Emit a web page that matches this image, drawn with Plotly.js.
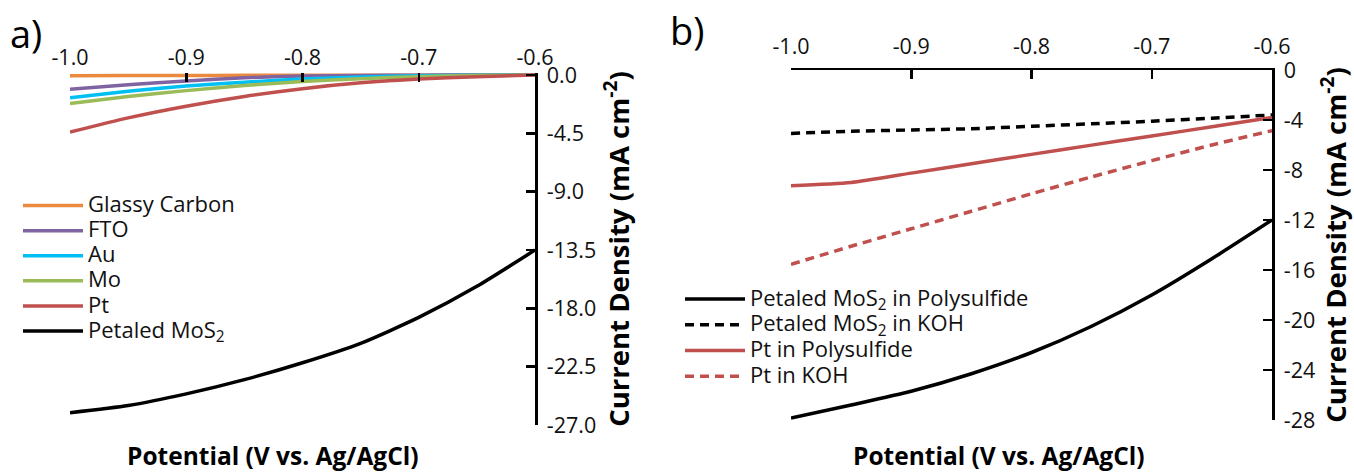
<!DOCTYPE html>
<html>
<head>
<meta charset="utf-8">
<script src="https://cdn.plot.ly/plotly-3.0.1.min.js"></script>
<style>html,body{margin:0;padding:0;background:#fff;}#chart{width:1354px;height:474px;}</style>
</head>
<body>
<div id="chart"></div>
<script>
// ---- Data ----
const potential = [-1.0, -0.95, -0.9, -0.85, -0.8, -0.75, -0.7, -0.65, -0.6];

// Panel a: current density (mA cm^-2)
const glassyCarbon = [-0.05, -0.04, -0.03, -0.02, -0.02, -0.01, -0.01, 0, 0];
const fto          = [-1.1, -0.75, -0.45, -0.2, -0.08, -0.03, -0.01, 0, 0];
const au           = [-1.75, -1.25, -0.85, -0.55, -0.3, -0.15, -0.05, -0.02, 0];
const mo           = [-2.2, -1.65, -1.2, -0.8, -0.5, -0.28, -0.12, -0.04, 0];
const pt           = [-4.4, -3.3, -2.4, -1.65, -1.05, -0.6, -0.3, -0.12, 0];
const petaledMoS2  = [-26.05, -25.5, -24.6, -23.5, -22.2, -20.7, -18.7, -16.3, -13.5];

// Panel b
const mos2Polysulfide = [-27.85, -26.8, -25.7, -24.3, -22.6, -20.5, -18.0, -15.1, -12.0];
const mos2KOH         = [-5.07, -4.9, -4.8, -4.7, -4.5, -4.3, -4.1, -3.85, -3.6];
const ptPolysulfide   = [-9.25, -9.0, -8.25, -7.5, -6.75, -6.01, -5.28, -4.54, -3.8];
const ptKOH           = [-15.55, -14.1, -12.7, -11.3, -9.9, -8.55, -7.25, -6.0, -4.85];

// Names and tick labels
const namesA = ["Glassy Carbon", "FTO", "Au", "Mo", "Pt", "Petaled MoS<sub>2</sub>"];
const namesB = ["Petaled MoS<sub>2</sub> in Polysulfide", "Petaled MoS<sub>2</sub> in KOH", "Pt in Polysulfide", "Pt in KOH"];
const xTickVals = [-1.0, -0.9, -0.8, -0.7, -0.6];
const xTickText = ["-1.0", "-0.9", "-0.8", "-0.7", "-0.6"];
const yTickValsA = [0, -4.5, -9, -13.5, -18, -22.5, -27];
const yTickTextA = ["0.0", "-4.5", "-9.0", "-13.5", "-18.0", "-22.5", "-27.0"];
const yTickValsB = [0, -4, -8, -12, -16, -20, -24, -28];
const yTickTextB = ["0", "-4", "-8", "-12", "-16", "-20", "-24", "-28"];
const xTitle = "Potential (V vs. Ag/AgCl)";
const yTitle = "Current Density (mA cm<sup>-2</sup>)";

// ---- Styling ----
const FONT = "Open Sans, Noto Sans, sans-serif";
const LEG_SIZE = 22;
const big = t => '<span style="font-size:' + LEG_SIZE + 'px">' + t + '</span>';
const colorsA = ["#EB8A3E", "#8064A2", "#00BFF3", "#9BBB59", "#C0504D", "#000000"];
const seriesA = [glassyCarbon, fto, au, mo, pt, petaledMoS2];
const seriesB = [mos2Polysulfide, mos2KOH, ptPolysulfide, ptKOH];
const colorsB = ["#000000", "#000000", "#C0504D", "#C0504D"];
const dashesB = ["solid", "9px,6px", "solid", "9px,6px"];

const traces = [];
seriesA.forEach((s, i) => {
  traces.push({
    x: potential, y: s, type: "scatter", mode: "lines", name: big(namesA[i]),
    xaxis: "x", yaxis: "y", legend: "legend",
    line: {color: colorsA[i], width: 3.5, shape: "spline", smoothing: 0.6}
  });
});
seriesB.forEach((s, i) => {
  traces.push({
    x: potential, y: s, type: "scatter", mode: "lines", name: big(namesB[i]),
    xaxis: "x2", yaxis: "y2", legend: "legend2",
    line: {color: colorsB[i], width: 3.5, dash: dashesB[i], shape: "spline", smoothing: 0.6}
  });
});

const W = 1354, H = 474;
const px = v => v / W, py = v => 1 - v / H;

const axisCommon = {
  showline: true, linecolor: "#000", linewidth: 2.5, mirror: false,
  ticks: "inside", ticklen: 9, tickwidth: 2.5, tickcolor: "#000",
  showgrid: false, zeroline: false, fixedrange: true,
  tickfont: {family: FONT, size: 21.5, color: "#111"}
};
const titleFont = {family: FONT, size: 27.5, color: "#000", weight: "bold"};

const layout = {
  width: W, height: H,
  margin: {l: 0, r: 0, t: 0, b: 0},
  paper_bgcolor: "#fff", plot_bgcolor: "rgba(0,0,0,0)",
  showlegend: true,
  xaxis: Object.assign({}, axisCommon, {
    domain: [px(70), px(535)], range: [-1.0, -0.6], side: "top", anchor: "y",
    showline: false,
    tickvals: xTickVals, ticktext: xTickText, ticklabelstandoff: 3
  }),
  yaxis: Object.assign({}, axisCommon, {
    domain: [py(425), py(73)], range: [-27, 0.16], side: "right", anchor: "x",
    zeroline: true, zerolinecolor: "#000", zerolinewidth: 2.5,
    tickvals: yTickValsA, ticktext: yTickTextA, ticklabelstandoff: 5,
    title: {text: yTitle, font: titleFont, standoff: 9}
  }),
  xaxis2: Object.assign({}, axisCommon, {
    domain: [px(791), px(1272)], range: [-1.0, -0.6], side: "top", anchor: "y2",
    tickvals: xTickVals, ticktext: xTickText, ticklabelstandoff: 5
  }),
  yaxis2: Object.assign({}, axisCommon, {
    domain: [py(420), py(70)], range: [-28, 0], side: "right", anchor: "x2",
    tickvals: yTickValsB, ticktext: yTickTextB, ticklabelstandoff: 5,
    title: {text: yTitle, font: titleFont, standoff: 9}
  }),
  legend: {
    x: px(18), y: py(188), xanchor: "left", yanchor: "top", itemwidth: 60,
    bgcolor: "rgba(0,0,0,0)", borderwidth: 0, tracegroupgap: 0,
    font: {family: FONT, size: 17, color: "#111"}
  },
  legend2: {
    x: px(680), y: py(281), xanchor: "left", yanchor: "top", itemwidth: 60,
    bgcolor: "rgba(0,0,0,0)", borderwidth: 0, tracegroupgap: 0,
    font: {family: FONT, size: 17.5, color: "#111"}
  },
  annotations: [
    {text: xTitle, xref: "paper", yref: "paper", x: px(273), y: py(455), showarrow: false,
     xanchor: "center", yanchor: "middle", font: {family: FONT, size: 24.5, color: "#000", weight: "bold"}},
    {text: xTitle, xref: "paper", yref: "paper", x: px(999), y: py(455), showarrow: false,
     xanchor: "center", yanchor: "middle", font: {family: FONT, size: 24.5, color: "#000", weight: "bold"}},
    {text: "a)", xref: "paper", yref: "paper", x: px(8), y: py(33), showarrow: false,
     xanchor: "left", yanchor: "middle", font: {family: FONT, size: 38, color: "#000"}},
    {text: "b)", xref: "paper", yref: "paper", x: px(668), y: py(30), showarrow: false,
     xanchor: "left", yanchor: "middle", font: {family: FONT, size: 38, color: "#000"}}
  ]
};

Plotly.newPlot("chart", traces, layout, {displayModeBar: false, staticPlot: true});
</script>
</body>
</html>
